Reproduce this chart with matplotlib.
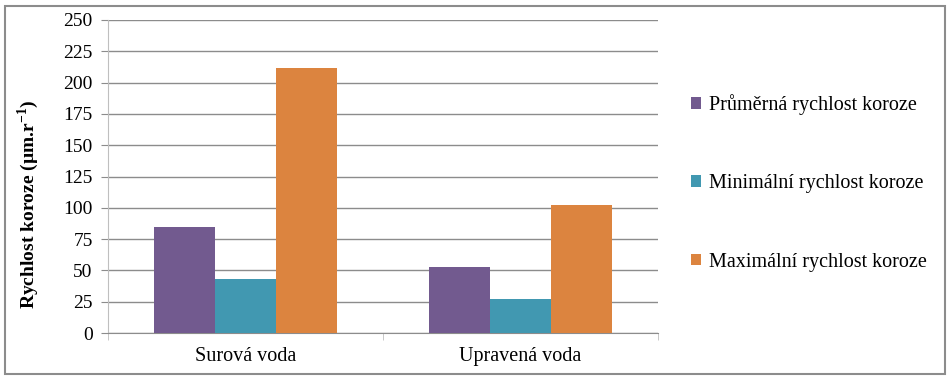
import matplotlib
matplotlib.use("Agg")
import matplotlib.pyplot as plt
from matplotlib.patches import Rectangle
import numpy as np

plt.rcParams["font.family"] = ["Liberation Serif", "DejaVu Serif"]
plt.rcParams["mathtext.fontset"] = "custom"
plt.rcParams["mathtext.rm"] = "Liberation Serif"
plt.rcParams["mathtext.bf"] = "Liberation Serif:bold"

categories = ["Surová voda", "Upravená voda"]
series_names = [
    "Průměrná rychlost koroze",
    "Minimální rychlost koroze",
    "Maximální rychlost koroze",
]
prumerna = [85, 52.5]
minimalni = [43, 27]
maximalni = [212, 102]
series_values = [prumerna, minimalni, maximalni]
colors = ["#725a8f", "#4198b1", "#dc843f"]
y_ticks = [0, 25, 50, 75, 100, 125, 150, 175, 200, 225, 250]

fig = plt.figure(figsize=(9.52, 3.8), dpi=100)
ax = fig.add_axes([108 / 952, 47 / 380, 550 / 952, 313 / 380])

x = np.arange(len(categories))
bar_w = 0.222
offsets = [-bar_w, 0, bar_w]
handles = []
for vals, off, col, name in zip(series_values, offsets, colors, series_names):
    h = ax.bar(x + off, vals, width=bar_w, color=col, label=name, zorder=3)
    handles.append(h)

ax.set_xlim(-0.5, len(categories) - 0.5)
ax.set_ylim(0, 250)
ax.set_yticks(y_ticks)
ax.set_yticklabels([str(t) for t in y_ticks], fontsize=14)
ax.yaxis.grid(True, color="#8c8c8c", linewidth=1, zorder=0)
ax.set_axisbelow(True)

ax.set_xticks(x)
ax.set_xticklabels(categories, fontsize=14.5)
ax.tick_params(axis="x", length=0, pad=10)
ax.set_xticks([-0.5, 0.5, 1.5], minor=True)
ax.tick_params(axis="x", which="minor", length=5, color="#bfbfbf", direction="out")
ax.tick_params(axis="y", length=5, color="#8c8c8c", pad=6)

for side in ["top", "right"]:
    ax.spines[side].set_visible(False)
ax.spines["left"].set_color("#bfbfbf")
ax.spines["bottom"].set_color("#8c8c8c")

ax.set_ylabel(r"Rychlost koroze (µm.r$^{\mathbf{-1}}$)", fontsize=14,
              fontweight="bold")
# label sits a bit below the axis centre in the original
ax.yaxis.set_label_coords(-0.122, 0.41)

fig.legend(handles=handles, labels=series_names, loc="upper left",
           bbox_to_anchor=(683 / 952, 1 - 86 / 380), frameon=False,
           fontsize=14.5, handlelength=0.5, handleheight=0.5,
           handletextpad=0.4, labelspacing=2.95, borderaxespad=0)

fig.patches.append(Rectangle((5 / 952, 6 / 380), 940 / 952, 368 / 380,
                             transform=fig.transFigure, fill=False,
                             edgecolor="#8c8c8c", linewidth=1.5))

fig.savefig("out.png", dpi=100)
